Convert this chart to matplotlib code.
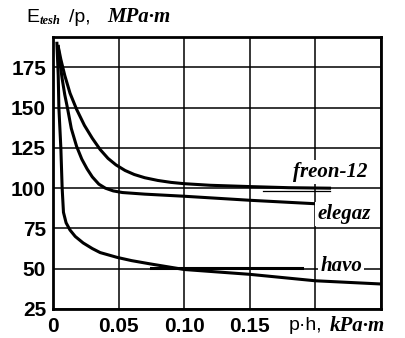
import matplotlib
matplotlib.use("Agg")
import matplotlib.pyplot as plt
import numpy as np

# curves
freon_x = [0.004, 0.006, 0.009, 0.013, 0.018, 0.024, 0.030, 0.036, 0.042, 0.048,
           0.055, 0.062, 0.070, 0.080, 0.090, 0.100, 0.120, 0.150, 0.180, 0.211]
freon_y = [188, 180, 170, 159, 149, 139, 131, 124, 118.5, 114.5,
           111, 108.5, 106.5, 104.8, 103.6, 102.8, 101.8, 101, 100.3, 100]
elegaz_x = [0.004, 0.005, 0.007, 0.009, 0.011, 0.014, 0.018, 0.022, 0.026, 0.030,
            0.035, 0.040, 0.046, 0.053, 0.070, 0.100, 0.150, 0.208]
elegaz_y = [188, 180, 168, 158, 150, 137, 126, 118, 112, 107,
            102.5, 100, 98.3, 97.3, 96.3, 95, 92.5, 90]
havo_x = [0.003, 0.004, 0.0045, 0.006, 0.007, 0.008, 0.010, 0.013, 0.017, 0.023,
          0.030, 0.036, 0.049, 0.060, 0.074, 0.100, 0.150, 0.200, 0.250]
havo_y = [190, 170, 150, 125, 100, 85, 78.5, 74, 70, 66,
          62.5, 60, 57, 55, 53, 49.5, 46.5, 42.5, 40.5]

# short leader strokes towards the labels
freon_lead_x = [0.160, 0.211]
freon_lead_y = [98.5, 98.5]
havo_lead_x = [0.075, 0.190]
havo_lead_y = [50.3, 50.3]

xticks = [0, 0.05, 0.10, 0.15, 0.20, 0.25]
xtick_labels = ["0", "0.05", "0.10", "0.15", "", ""]
yticks = [25, 50, 75, 100, 125, 150, 175]

curve_names = ["freon-12", "elegaz", "havo"]
label_pos = [(0.2115, 110), (0.222, 84), (0.220, 51.5)]

fig = plt.figure(figsize=(4.06, 3.38), dpi=100)
ax = fig.add_axes([0.1305, 0.086, 0.807, 0.805])

ax.set_xlim(0, 0.25)
ax.set_ylim(25, 194)
ax.set_xticks(xticks)
ax.set_xticklabels(xtick_labels)
ax.set_yticks(yticks)
ax.tick_params(axis="y", length=0, labelsize=15, pad=5)
ax.tick_params(axis="x", length=0, labelsize=15, pad=6)
for t in ax.get_xticklabels() + ax.get_yticklabels():
    t.set_family("Liberation Sans")
    t.set_weight("bold")

ax.grid(True, color="black", linewidth=1.1, zorder=1)
ax.set_axisbelow(True)
for s in ax.spines.values():
    s.set_linewidth(2.0)

lw = 2.2
ax.plot(freon_x, freon_y, color="black", lw=lw, zorder=3, solid_joinstyle="round")
ax.plot(elegaz_x, elegaz_y, color="black", lw=lw, zorder=3, solid_joinstyle="round")
ax.plot(havo_x, havo_y, color="black", lw=lw, zorder=3, solid_joinstyle="round")
ax.plot(freon_lead_x, freon_lead_y, color="black", lw=0.9, zorder=3)
ax.plot(havo_lead_x, havo_lead_y, color="black", lw=2.2, zorder=3)

for name, (lx, ly) in zip(curve_names, label_pos):
    ax.text(lx, ly, name, family="Liberation Serif", weight="bold", style="italic",
            fontsize=15, ha="center", va="center", zorder=4,
            bbox=dict(facecolor="white", edgecolor="none", pad=1.5))

# axis titles
fig.text(0.066, 0.935, "E", family="Liberation Sans", fontsize=14, va="baseline")
fig.text(0.098, 0.929, "tesh", family="Liberation Serif", weight="bold", style="italic",
         fontsize=9, va="baseline")
fig.text(0.170, 0.935, "/p,", family="Liberation Sans", fontsize=14, va="baseline")
fig.text(0.265, 0.935, "MPa·m", family="Liberation Serif", weight="bold", style="italic",
         fontsize=15, va="baseline")

fig.text(0.712, 0.036, "p·h,", family="Liberation Sans", fontsize=14, va="center")
fig.text(0.813, 0.036, "kPa·m", family="Liberation Serif", weight="bold", style="italic",
         fontsize=15, va="center")

fig.savefig("out.png", dpi=100)
